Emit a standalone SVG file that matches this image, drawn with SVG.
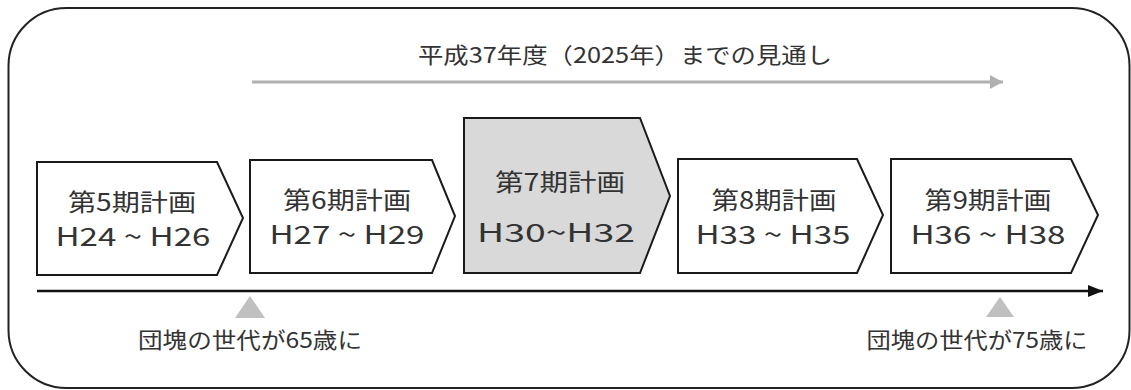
<svg xmlns="http://www.w3.org/2000/svg" width="1131" height="390" viewBox="0 0 1131 390">
  <defs>
    <style>
      .frame { fill: #ffffff; stroke: #222222; stroke-width: 2; }
      .box { fill: #ffffff; stroke: #1a1a1a; stroke-width: 2; stroke-linejoin: miter; }
      .box.current { fill: #d9d9d9; }
      .t { font-family: "Noto Sans CJK JP", "Noto Sans", sans-serif; fill: #333333; text-anchor: middle; }
      .lbl { font-size: 24px; }
      .yr { font-size: 25px; }
      .note { font-size: 22px; }
      .mark { fill: #c0c0c0; }
    </style>
    <marker id="grayHead" markerWidth="14" markerHeight="16" refX="13" refY="8" orient="auto" markerUnits="userSpaceOnUse">
      <path d="M0,1 L13,8 L0,15 Z" fill="#b0b0b0"/>
    </marker>
    <marker id="blackHead" markerWidth="16" markerHeight="14" refX="15" refY="7" orient="auto" markerUnits="userSpaceOnUse">
      <path d="M0,1 L15,7 L0,13 Z" fill="#111111"/>
    </marker>
  </defs>

  <rect class="frame" x="8.5" y="8" width="1121" height="380" rx="58" ry="58"/>

  <g id="connectors">
    <line x1="252" y1="82" x2="1003" y2="82" stroke="#b0b0b0" stroke-width="3" marker-end="url(#grayHead)"/>
    <line x1="37" y1="291" x2="1103" y2="291" stroke="#111111" stroke-width="2.5" marker-end="url(#blackHead)"/>
  </g>

  <g id="title">
    <text class="t" x="625" y="63" font-size="22" textLength="414" lengthAdjust="spacingAndGlyphs">平成37年度（2025年）までの見通し</text>
  </g>

  <g id="plan5">
    <path class="box" d="M37,162 L217,162 L243,218 L217,275 L37,275 Z"/>
    <text class="t lbl" x="132" y="211" textLength="128" lengthAdjust="spacingAndGlyphs">第5期計画</text>
    <text class="t yr" x="133" y="246" textLength="155" lengthAdjust="spacingAndGlyphs">H24 ~ H26</text>
  </g>

  <g id="plan6">
    <path class="box" d="M250,160 L432,160 L455,216 L432,273 L250,273 Z"/>
    <text class="t lbl" x="347" y="209" textLength="128" lengthAdjust="spacingAndGlyphs">第6期計画</text>
    <text class="t yr" x="347" y="244" textLength="155" lengthAdjust="spacingAndGlyphs">H27 ~ H29</text>
  </g>

  <g id="plan7">
    <path class="box current" d="M464,118 L640,118 L670,196 L640,273 L464,273 Z"/>
    <text class="t lbl" x="560" y="191" textLength="130" lengthAdjust="spacingAndGlyphs">第7期計画</text>
    <text class="t yr" x="556" y="242" textLength="158" lengthAdjust="spacingAndGlyphs">H30~H32</text>
  </g>

  <g id="plan8">
    <path class="box" d="M678,159 L857,159 L883,215 L857,273 L678,273 Z"/>
    <text class="t lbl" x="774" y="209" textLength="125" lengthAdjust="spacingAndGlyphs">第8期計画</text>
    <text class="t yr" x="773" y="244" textLength="155" lengthAdjust="spacingAndGlyphs">H33 ~ H35</text>
  </g>

  <g id="plan9">
    <path class="box" d="M891,159 L1071,159 L1098,215 L1071,273 L891,273 Z"/>
    <text class="t lbl" x="988" y="209" textLength="127" lengthAdjust="spacingAndGlyphs">第9期計画</text>
    <text class="t yr" x="988" y="244" textLength="155" lengthAdjust="spacingAndGlyphs">H36 ~ H38</text>
  </g>

  <g id="milestone65">
    <path class="mark" d="M235,318 L265,318 L250,296 Z"/>
    <text class="t note" x="250" y="348" textLength="224" lengthAdjust="spacingAndGlyphs">団塊の世代が65歳に</text>
  </g>

  <g id="milestone75">
    <path class="mark" d="M986,317 L1014,317 L1000,297 Z"/>
    <text class="t note" x="977" y="348" textLength="221" lengthAdjust="spacingAndGlyphs">団塊の世代が75歳に</text>
  </g>
</svg>
